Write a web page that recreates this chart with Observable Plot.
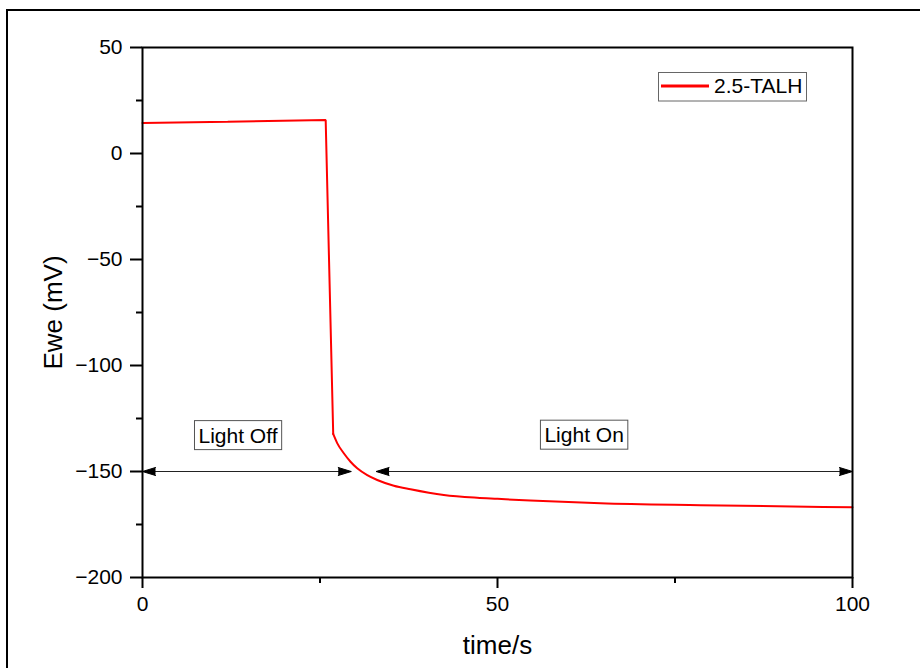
<!DOCTYPE html>
<html><head><meta charset="utf-8">
<script src="https://cdn.jsdelivr.net/npm/d3@7"></script>
<script src="https://cdn.jsdelivr.net/npm/@observablehq/plot@0.6"></script>
<style>html,body{margin:0;padding:0;background:#fff;} #chart{width:920px;height:668px;}</style>
</head><body><div id="chart"></div>
<script>
// ---- data ----
const time = [0, 12, 25.8, 26.86, 27.42, 28.35, 29.3, 30.24, 31.65, 33.06, 35.4, 37.75, 42.44, 47.14, 50.0, 54.6, 64.5, 78.6, 100];
const ewe  = [14.4, 15.0, 15.8, -132.3, -136.6, -141.4, -145.4, -148.5, -151.7, -154.0, -156.7, -158.4, -161.1, -162.4, -162.9, -163.7, -165.0, -165.9, -166.9];
const dropEndIndex = 3; // last point of the sudden drop (light switched on)
const seriesName = "2.5-TALH";
const yMajor = [50, 0, -50, -100, -150, -200];
const yMinor = [25, -25, -75, -125, -175];
const xMajor = [0, 50, 100];
const xMinor = [25, 75];
const annotLabels = ["Light Off", "Light On"];
const annotX = [13.45, 62.2];
const annotY = [-133.2, -133.0];
const arrowY = -150;
const arrowStart = [0, 32.9];
const arrowEnd = [29.4, 100];
const xTitle = "time/s";
const yTitle = "Ewe (mV)";

// ---- tables built from the arrays ----
const series = time.map((t, i) => ({t, v: ewe[i]}));
const partDrop = series.slice(0, dropEndIndex + 1);
const partDecay = series.slice(dropEndIndex);
const annots = annotLabels.map((label, i) => ({label, x: annotX[i], y: annotY[i]}));
const arrows = arrowStart.map((a, i) => ({x1: a, x2: arrowEnd[i], y: arrowY}));
const heads = arrows.flatMap(d => [{x: d.x1, y: d.y, dir: -90}, {x: d.x2, y: d.y, dir: 90}]);

const FONT = "'Liberation Sans', Arial, sans-serif";

const svg = Plot.plot({
  width: 920, height: 668,
  marginLeft: 142, marginRight: 68, marginTop: 47, marginBottom: 91,
  style: {fontFamily: FONT, background: "white", color: "black"},
  x: {domain: [0, 100]},
  y: {domain: [-200, 50]},
  marks: [
    Plot.axisY(yMajor, {tickSize: 12, tickPadding: 8, strokeWidth: 2, fontSize: 21, fill: "black"}),
    Plot.axisY(yMinor, {tickSize: 6, text: null, strokeWidth: 2, label: null}),
    Plot.axisX(xMajor, {tickSize: 11, tickPadding: 8, strokeWidth: 2, fontSize: 21, fill: "black", label: null}),
    Plot.axisX(xMinor, {tickSize: 6, text: null, strokeWidth: 2, label: null}),
    Plot.text([xTitle], {frameAnchor: "bottom", dy: 68, lineAnchor: "middle", fontSize: 26, fill: "black", text: d => d}),
    Plot.text([yTitle], {frameAnchor: "left", dx: -89, rotate: -90, textAnchor: "middle", lineAnchor: "middle", fontSize: 26, fill: "black", text: d => d}),
    Plot.link(arrows, {x1: "x1", x2: "x2", y1: "y", y2: "y", stroke: "#222", strokeWidth: 1}),
    Plot.vector(heads, {x: "x", y: "y", rotate: "dir", length: 13, r: 4, anchor: "end", shape: "spike", fill: "black", stroke: "black", strokeWidth: 1}),
    Plot.line(partDrop, {x: "t", y: "v", stroke: "#ff0000", strokeWidth: 2, strokeLinejoin: "miter"}),
    Plot.line(partDecay, {x: "t", y: "v", stroke: "#ff0000", strokeWidth: 2, curve: "monotone-x"}),
    Plot.text(annots, {x: "x", y: "y", text: "label", fontSize: 21, fill: "black", lineAnchor: "middle"}),
    Plot.frame({stroke: "black", strokeWidth: 2})
  ]
});

document.getElementById("chart").append(svg);

// boxes around the annotation texts
d3.select(svg).selectAll("text").filter(function() {
  return annotLabels.includes(this.textContent);
}).each(function() {
  const b = this.getBBox();
  const cy = b.y + b.height / 2;
  const tr = this.getAttribute("transform");
  const r = d3.select(this.parentNode).insert("rect", () => this)
    .attr("x", b.x - 4).attr("y", cy - 14.5)
    .attr("width", b.width + 8).attr("height", 29)
    .attr("fill", "white").attr("stroke", "#555").attr("stroke-width", 1);
  if (tr) r.attr("transform", tr);
});

// legend
const lg = d3.select(svg).append("g").attr("font-family", FONT).attr("text-anchor", "start");
lg.append("rect").attr("x", 658.5).attr("y", 72.5).attr("width", 148).attr("height", 28.5)
  .attr("fill", "white").attr("stroke", "#666").attr("stroke-width", 1);
lg.append("line").attr("x1", 661).attr("x2", 709).attr("y1", 86).attr("y2", 86)
  .attr("stroke", "#ff0000").attr("stroke-width", 3);
lg.append("text").attr("x", 714).attr("y", 86).attr("dy", "0.35em").attr("font-size", 21)
  .attr("fill", "black").attr("text-anchor", "start").text(seriesName);

// outer page frame
d3.select(svg).append("rect").attr("x", 7).attr("y", 10).attr("width", 1000).attr("height", 1000)
  .attr("fill", "none").attr("stroke", "black").attr("stroke-width", 2);
</script>
</body></html>
